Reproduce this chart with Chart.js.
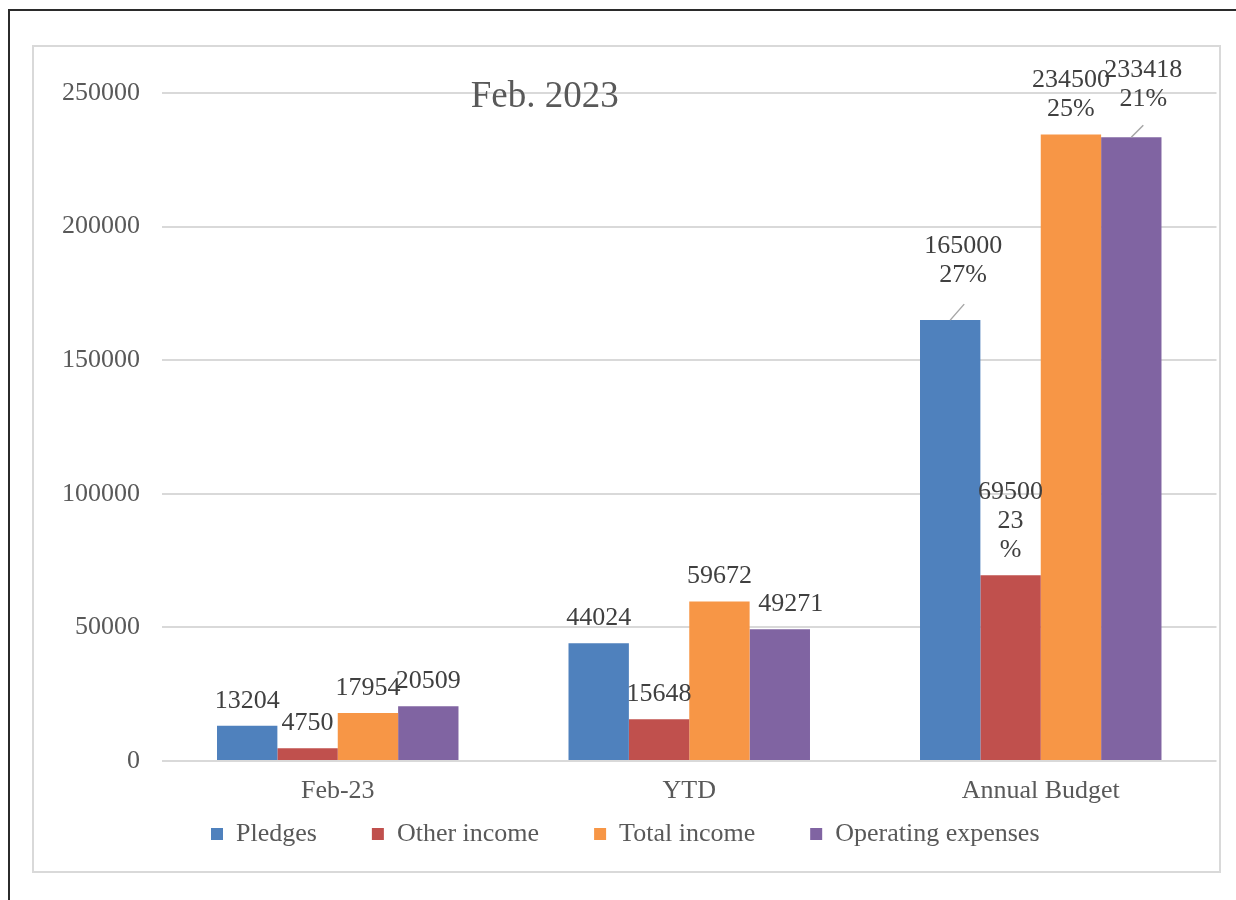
<!DOCTYPE html>
<html>
<head>
<meta charset="utf-8" />
<script src="https://cdn.jsdelivr.net/npm/chart.js@4.4.0/dist/chart.umd.min.js"></script>
<style>
  body { margin:0; background:#fff; width:1236px; height:900px; overflow:hidden; position:relative; }
  #frame { position:absolute; left:8px; top:9px; width:1300px; height:1000px; border-left:2px solid #2b2b2b; border-top:2px solid #2b2b2b; }
  #box { position:absolute; left:32px; top:45px; width:1185px; height:824px; border:2px solid #d9d9d9; background:#fff; }
  #box canvas { display:block; }
</style>
</head>
<body>
<div id="frame"></div>
<div id="box"><canvas id="chart"></canvas></div>
<script>
const categories = ['Feb-23', 'YTD', 'Annual Budget'];
const seriesNames = ['Pledges', 'Other income', 'Total income', 'Operating expenses'];
const pledges = [13204, 44024, 165000];
const otherIncome = [4750, 15648, 69500];
const totalIncome = [17954, 59672, 234500];
const operatingExpenses = [20509, 49271, 233418];
// share of the annual budget, shown under the Annual Budget values
const budgetShare = ['27%', '23%', '25%', '21%'];
const yMin = 0, yMax = 250000, yStep = 50000;

const FONT = '"Liberation Serif", "DejaVu Serif", serif';
const colors = ['#4f81bd', '#c0504d', '#f79646', '#8064a2'];

// hand-moved labels in the original (offsets in px, leader line end relative to bar top)
const labelTweaks = {
  '0-2': { dx: 13, dy: -20, leader: [14, -16] },
  '1-2': { split: true },
  '3-2': { dx: 12, dy: -13, leader: [12, -12] },
  '3-1': { dx: 11 }
};

const barLabels = {
  id: 'barLabels',
  afterDatasetsDraw(chart) {
    const ctx = chart.ctx;
    ctx.save();
    ctx.font = '26px ' + FONT;
    ctx.fillStyle = '#404040';
    ctx.textAlign = 'center';
    ctx.textBaseline = 'middle';
    chart.data.datasets.forEach((ds, di) => {
      chart.getDatasetMeta(di).data.forEach((bar, i) => {
        const t = labelTweaks[di + '-' + i] || {};
        let lines = [String(ds.data[i])];
        if (i === 2) {
          const p = budgetShare[di];
          lines = lines.concat(t.split ? [p.slice(0, -1), '%'] : [p]);
        }
        const x = bar.x + (t.dx || 0);
        const yLast = bar.y - 25 + (t.dy || 0);
        lines.forEach((s, k) => ctx.fillText(s, x, yLast - (lines.length - 1 - k) * 29));
        if (t.leader) {
          ctx.strokeStyle = '#a6a6a6';
          ctx.lineWidth = 1.5;
          ctx.beginPath();
          ctx.moveTo(bar.x, bar.y);
          ctx.lineTo(bar.x + t.leader[0], bar.y + t.leader[1]);
          ctx.stroke();
        }
      });
    });
    ctx.restore();
  }
};

const innerTitle = {
  id: 'innerTitle',
  afterDraw(chart) {
    const { ctx, chartArea } = chart;
    ctx.save();
    ctx.font = '37px ' + FONT;
    ctx.fillStyle = '#595959';
    ctx.textAlign = 'center';
    ctx.textBaseline = 'middle';
    ctx.fillText('Feb. 2023', chartArea.left + (chartArea.right - chartArea.left) * 0.363, chartArea.top + 4);
    ctx.restore();
  }
};

const seriesData = [pledges, otherIncome, totalIncome, operatingExpenses];

new Chart(document.getElementById('chart'), {
  type: 'bar',
  data: {
    labels: categories,
    datasets: seriesNames.map((name, k) => ({
      label: name,
      data: seriesData[k],
      backgroundColor: colors[k],
      borderWidth: 0,
      categoryPercentage: 0.687,
      barPercentage: 1
    }))
  },
  options: {
    responsive: true,
    maintainAspectRatio: false,
    animation: false,
    layout: { padding: { top: 46, right: 2.5, left: 0, bottom: 14 } },
    plugins: {
      tooltip: { enabled: false },
      legend: {
        position: 'bottom',
        labels: { font: { family: FONT, size: 26 }, color: '#595959', boxWidth: 12, boxHeight: 12, padding: 55 }
      }
    },
    scales: {
      x: {
        grid: { display: false, drawTicks: false },
        border: { display: false },
        // mirrored so the labels are not clipped to the thin axis box; negative padding puts them back below the axis
        ticks: { font: { family: FONT, size: 26 }, color: '#595959', mirror: true, padding: -45.6, maxRotation: 0 },
        afterFit(s) { s.height = 5; }
      },
      y: {
        min: yMin, max: yMax,
        ticks: { stepSize: yStep, font: { family: FONT, size: 26 }, color: '#595959', padding: 22,
                 callback: v => String(v) },
        grid: { color: '#d9d9d9', lineWidth: 2, drawTicks: false },
        border: { display: false },
        afterFit(s) { s.width = 128; }
      }
    }
  },
  plugins: [barLabels, innerTitle]
});
</script>
</body>
</html>
